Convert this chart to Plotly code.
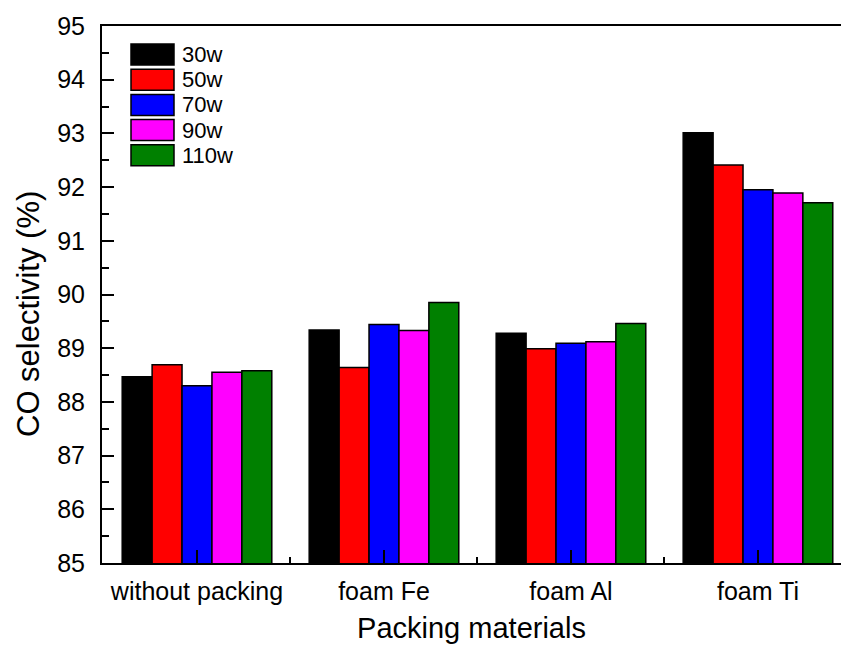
import plotly.graph_objects as go

# Packing materials (x categories) and plasma power levels (series)
materials = ["without packing", "foam Fe", "foam Al", "foam Ti"]
powers = ["30w", "50w", "70w", "90w", "110w"]
colors = ["#000000", "#FF0000", "#0000FF", "#FF00FF", "#008000"]

# CO selectivity (%) per power level, one value per packing material
sel_30w = [88.47, 89.34, 89.28, 93.01]
sel_50w = [88.69, 88.64, 88.99, 92.41]
sel_70w = [88.30, 89.44, 89.09, 91.95]
sel_90w = [88.55, 89.33, 89.12, 91.89]
sel_110w = [88.58, 89.85, 89.46, 91.71]
series = [sel_30w, sel_50w, sel_70w, sel_90w, sel_110w]

FONT = "Liberation Sans, Arial, sans-serif"
W, H = 841, 648
ML, MT, MB = 102, 26, 85
PW, PH = W - ML, H - MT - MB

fig = go.Figure()
xpos = list(range(len(materials)))
for name, vals, col in zip(powers, series, colors):
    fig.add_trace(go.Bar(
        x=xpos, y=vals, name=name,
        marker=dict(color=col, line=dict(color="#000000", width=1.5)),
        showlegend=False,
    ))

# Pixel layout -> paper coordinates
def px_x(px):
    return (px - ML) / PW

def px_y(py):
    return (H - MB - py) / PH

# Legend drawn as large colour swatches with labels
sw_left, sw_right = 131, 174
sw_top, sw_step, sw_h = 44, 25.2, 21
for i, (name, col) in enumerate(zip(powers, colors)):
    top = sw_top + i * sw_step
    fig.add_shape(type="rect", xref="paper", yref="paper",
                  x0=px_x(sw_left), x1=px_x(sw_right),
                  y0=px_y(top + sw_h), y1=px_y(top),
                  fillcolor=col, line=dict(color="#000000", width=1.5))
    fig.add_annotation(xref="paper", yref="paper",
                       x=px_x(180), y=px_y(top + sw_h / 2),
                       text=name, showarrow=False, xanchor="left", yanchor="middle",
                       font=dict(family=FONT, size=22, color="#000000"))

# Y-axis title, placed slightly below the plot's vertical centre
fig.add_annotation(xref="paper", yref="paper",
                   x=px_x(28), y=px_y(314), textangle=-90,
                   text="CO selectivity (%)", showarrow=False,
                   xanchor="center", yanchor="middle",
                   font=dict(family=FONT, size=31, color="#000000"))

fig.update_layout(
    width=W, height=H,
    margin=dict(l=ML, r=0, t=MT, b=MB),
    paper_bgcolor="white", plot_bgcolor="white",
    barmode="group", bargap=0.2, bargroupgap=0,
    font=dict(family=FONT, color="#000000"),
)

fig.update_xaxes(
    range=[-0.508, 3.444],
    tickmode="array", tickvals=xpos, ticktext=materials,
    ticks="inside", ticklen=13, tickwidth=2, tickcolor="#000000",
    minor=dict(ticks="inside", ticklen=6, tickwidth=2, tickcolor="#000000",
               tickmode="array", tickvals=[0.5, 1.5, 2.5]),
    showline=True, linewidth=2, linecolor="#000000", mirror=True,
    showgrid=False, zeroline=False,
    tickfont=dict(family=FONT, size=25, color="#000000"),
    ticklabelstandoff=5,
    title=dict(text="Packing materials", font=dict(family=FONT, size=29, color="#000000"),
               standoff=14),
)

fig.update_yaxes(
    range=[85, 95], dtick=1, tick0=85,
    ticks="inside", ticklen=12, tickwidth=2, tickcolor="#000000",
    minor=dict(ticks="inside", ticklen=7, tickwidth=2, tickcolor="#000000", dtick=0.5),
    showline=True, linewidth=2, linecolor="#000000", mirror=False,
    showgrid=False, zeroline=False,
    tickfont=dict(family=FONT, size=25, color="#000000"),
    ticklabelstandoff=10,
)

fig.write_html("out.html")
